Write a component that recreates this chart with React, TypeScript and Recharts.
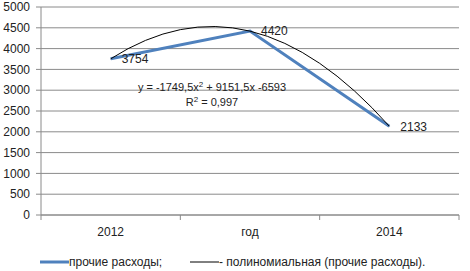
import React from 'react';
import { ComposedChart, Line, XAxis, YAxis, CartesianGrid, Legend, LabelList, Customized } from 'recharts';

const categories = ['2012', 'год', '2014'];
const expenses = [3754, 4420, 2133];
const yTicks = [0, 500, 1000, 1500, 2000, 2500, 3000, 3500, 4000, 4500, 5000];

const seriesName = 'прочие расходы;';
const trendName = '- полиномиальная (прочие расходы).';
const equationText = ['y = -1749,5x', '2', ' + 9151,5x -6593'];
const r2Text = ['R', '2', ' = 0,997'];

const data = categories.map((c, i) => ({ name: c, value: expenses[i] }));

const FONT = '"Liberation Sans", Arial, sans-serif';
const BLUE = '#4F81BD';
const GRID = '#8a8a8a';

// second-order polynomial trend: a quadratic through the three plotted points
const polyCurve = (context: any) => {
  let pts: number[][] = [];
  return {
    areaStart() {},
    areaEnd() {},
    lineStart() {
      pts = [];
    },
    lineEnd() {
      if (pts.length === 3) {
        const [p0, p1, p2] = pts;
        context.moveTo(p0[0], p0[1]);
        context.quadraticCurveTo(p1[0], 2 * p1[1] - (p0[1] + p2[1]) / 2, p2[0], p2[1]);
      } else {
        pts.forEach((p, i) => (i ? context.lineTo(p[0], p[1]) : context.moveTo(p[0], p[1])));
      }
    },
    point(x: number, y: number) {
      pts.push([x, y]);
    },
  };
};

const X_TICK_SIZE = 5;
const X_TICK_MARGIN = 7;

const CategoryTick = (props: any) => {
  const { x, y, payload, index, visibleTicksCount, width } = props;
  const step = (width || 418) / (visibleTicksCount || 3);
  const axisY = y - X_TICK_SIZE - X_TICK_MARGIN;
  return (
    <g>
      <line x1={x - step / 2} x2={x - step / 2} y1={axisY} y2={axisY + X_TICK_SIZE} stroke={GRID} />
      {index === visibleTicksCount - 1 && (
        <line x1={x + step / 2} x2={x + step / 2} y1={axisY} y2={axisY + X_TICK_SIZE} stroke={GRID} />
      )}
      <text x={x} y={y} dy="0.71em" textAnchor="middle" fontFamily={FONT} fontSize={12} fill="#222">
        {payload.value}
      </text>
    </g>
  );
};

const LegendContent = () => (
  <div style={{ position: 'relative', width: 470, height: 28, fontFamily: FONT, fontSize: 12, color: '#222' }}>
    <div style={{ position: 'absolute', left: 40, top: 12, height: 14, lineHeight: '14px', display: 'flex', alignItems: 'center', whiteSpace: 'nowrap' }}>
      <svg width={29} height={6}>
        <line x1={0} x2={29} y1={3} y2={3} stroke={BLUE} strokeWidth={3} />
      </svg>
      <span>{seriesName}</span>
    </div>
    <div style={{ position: 'absolute', left: 190, top: 12, height: 14, lineHeight: '14px', display: 'flex', alignItems: 'center', whiteSpace: 'nowrap' }}>
      <svg width={29} height={6}>
        <line x1={0} x2={29} y1={3} y2={3} stroke="#000" strokeWidth={1} />
      </svg>
      <span>{trendName}</span>
    </div>
  </div>
);

const Equation = () => (
  <g fontFamily={FONT} fontSize={11} fill="#222">
    <text x={212} y={91} textAnchor="middle">
      {equationText[0]}
      <tspan dy={-4} fontSize={8}>{equationText[1]}</tspan>
      <tspan dy={4}>{equationText[2]}</tspan>
    </text>
    <text x={212} y={106} textAnchor="middle">
      {r2Text[0]}
      <tspan dy={-4} fontSize={8}>{r2Text[1]}</tspan>
      <tspan dy={4}>{r2Text[2]}</tspan>
    </text>
  </g>
);

export default function App() {
  return (
    <div style={{ position: 'absolute', left: 0, top: 0, width: 470, height: 271, background: '#fff' }}>
      <ComposedChart width={470} height={271} data={data} margin={{ top: 7, right: 11, bottom: 0, left: 0 }}>
        <CartesianGrid vertical={false} stroke={GRID} />
        <XAxis
          dataKey="name"
          scale="band"
          height={28}
          stroke={GRID}
          tickLine={false}
          tickSize={X_TICK_SIZE}
          tickMargin={X_TICK_MARGIN}
          tick={<CategoryTick />}
          interval={0}
        />
        <YAxis
          width={41}
          domain={[0, 5000]}
          ticks={yTicks}
          interval={0}
          stroke={GRID}
          tickSize={5}
          tickMargin={6}
          tick={{ fill: '#222', fontFamily: FONT, fontSize: 12 }}
        />
        <Line
          dataKey="value"
          type="linear"
          stroke={BLUE}
          strokeWidth={3}
          dot={false}
          isAnimationActive={false}
        >
          <LabelList dataKey="value" position="right" offset={11} fill="#222" fontFamily={FONT} fontSize={12} />
        </Line>
        <Line
          dataKey="value"
          type={polyCurve as any}
          stroke="#000"
          strokeWidth={1}
          dot={false}
          legendType="none"
          isAnimationActive={false}
        />
        <Customized component={<Equation />} />
        <Legend
          verticalAlign="bottom"
          width={470}
          height={28}
          wrapperStyle={{ left: 0, bottom: 0 }}
          content={<LegendContent />}
        />
      </ComposedChart>
    </div>
  );
}
